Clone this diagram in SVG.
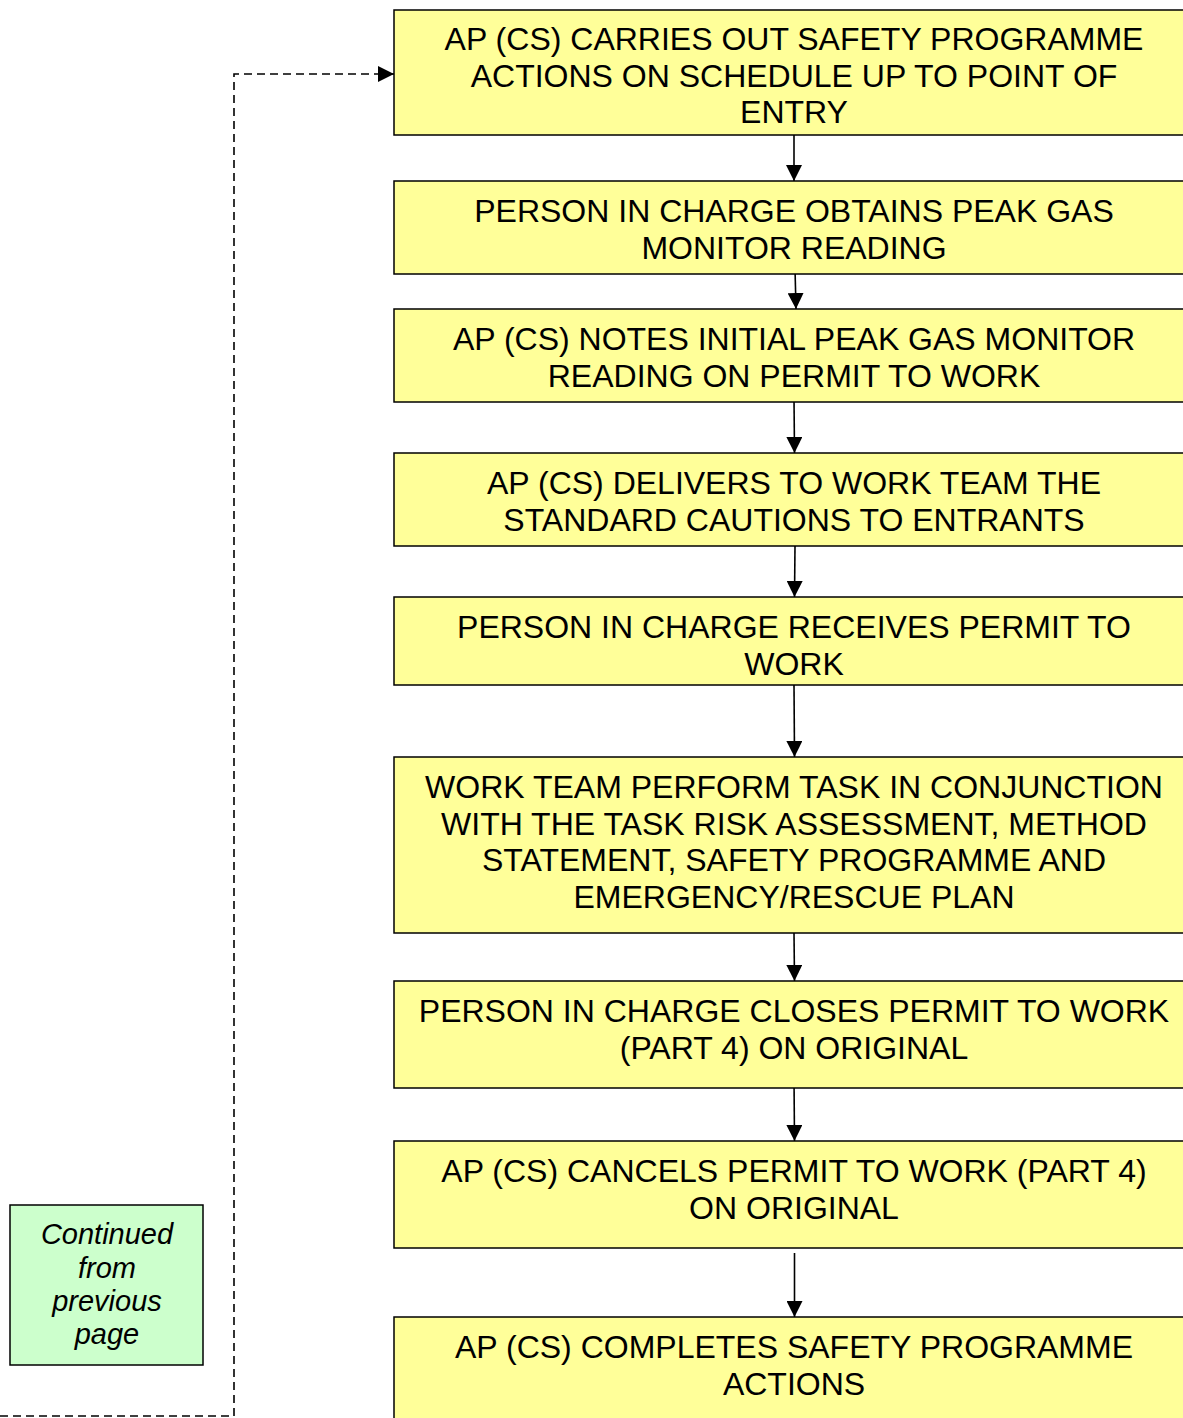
<svg xmlns="http://www.w3.org/2000/svg" width="1183" height="1418" viewBox="0 0 1183 1418">
<style>
.box{fill:#ffff99;stroke:#000;stroke-width:1.5}
.note{fill:#ccffcc;stroke:#000;stroke-width:1.5}
.t{font-family:"Liberation Sans",Arial,sans-serif;font-size:32px;text-anchor:middle;fill:#000}
.n{font-family:"Liberation Sans",Arial,sans-serif;font-size:29px;font-style:italic;text-anchor:middle;fill:#000}
.c{stroke:#000;stroke-width:1.6;fill:none}
.d{stroke:#000;stroke-width:1.6;fill:none;stroke-dasharray:8 5}
</style>
<defs>
<marker id="ah" markerUnits="userSpaceOnUse" markerWidth="16" markerHeight="16" refX="16" refY="8" orient="auto">
<path d="M0,0 L16,8 L0,16 Z" fill="#000"/>
</marker>
</defs>
<g id="connectors">
<path class="d" d="M0,1416 L234,1416 L234,74 L394,74" marker-end="url(#ah)"/>
<line class="c" x1="794" y1="135" x2="794" y2="181" marker-end="url(#ah)"/>
<line class="c" x1="795" y1="268" x2="796" y2="309" marker-end="url(#ah)"/>
<line class="c" x1="794" y1="398" x2="794.5" y2="453" marker-end="url(#ah)"/>
<line class="c" x1="795" y1="546" x2="794.5" y2="597" marker-end="url(#ah)"/>
<line class="c" x1="794" y1="685" x2="794.5" y2="757" marker-end="url(#ah)"/>
<line class="c" x1="794" y1="933" x2="794.5" y2="981" marker-end="url(#ah)"/>
<line class="c" x1="794" y1="1078" x2="794.5" y2="1141" marker-end="url(#ah)"/>
<line class="c" x1="794.5" y1="1253" x2="794.5" y2="1317" marker-end="url(#ah)"/>
</g>
<g id="n1"><rect class="box" x="394" y="10" width="800" height="125"/>
<text class="t" x="794" y="50">AP (CS) CARRIES OUT SAFETY PROGRAMME</text>
<text class="t" x="794" y="87">ACTIONS ON SCHEDULE UP TO POINT OF</text>
<text class="t" x="794" y="123">ENTRY</text></g>
<g id="n2"><rect class="box" x="394" y="181" width="800" height="93"/>
<text class="t" x="794" y="222">PERSON IN CHARGE OBTAINS PEAK GAS</text>
<text class="t" x="794" y="259">MONITOR READING</text></g>
<g id="n3"><rect class="box" x="394" y="309" width="800" height="93"/>
<text class="t" x="794" y="350">AP (CS) NOTES INITIAL PEAK GAS MONITOR</text>
<text class="t" x="794" y="387">READING ON PERMIT TO WORK</text></g>
<g id="n4"><rect class="box" x="394" y="453" width="800" height="93"/>
<text class="t" x="794" y="494">AP (CS) DELIVERS TO WORK TEAM THE</text>
<text class="t" x="794" y="531">STANDARD CAUTIONS TO ENTRANTS</text></g>
<g id="n5"><rect class="box" x="394" y="597" width="800" height="88"/>
<text class="t" x="794" y="638">PERSON IN CHARGE RECEIVES PERMIT TO</text>
<text class="t" x="794" y="675">WORK</text></g>
<g id="n6"><rect class="box" x="394" y="757" width="800" height="176"/>
<text class="t" x="794" y="798">WORK TEAM PERFORM TASK IN CONJUNCTION</text>
<text class="t" x="794" y="835">WITH THE TASK RISK ASSESSMENT, METHOD</text>
<text class="t" x="794" y="871">STATEMENT, SAFETY PROGRAMME AND</text>
<text class="t" x="794" y="908">EMERGENCY/RESCUE PLAN</text></g>
<g id="n7"><rect class="box" x="394" y="981" width="800" height="107"/>
<text class="t" x="794" y="1022">PERSON IN CHARGE CLOSES PERMIT TO WORK</text>
<text class="t" x="794" y="1059">(PART 4) ON ORIGINAL</text></g>
<g id="n8"><rect class="box" x="394" y="1141" width="800" height="107"/>
<text class="t" x="794" y="1182">AP (CS) CANCELS PERMIT TO WORK (PART 4)</text>
<text class="t" x="794" y="1219">ON ORIGINAL</text></g>
<g id="n9"><rect class="box" x="394" y="1317" width="800" height="140"/>
<text class="t" x="794" y="1358">AP (CS) COMPLETES SAFETY PROGRAMME</text>
<text class="t" x="794" y="1395">ACTIONS</text></g>
<g id="note"><rect class="note" x="10" y="1205" width="193" height="160"/>
<text class="n" x="107" y="1244">Continued</text>
<text class="n" x="107" y="1278">from</text>
<text class="n" x="107" y="1311">previous</text>
<text class="n" x="107" y="1344">page</text></g>
</svg>
